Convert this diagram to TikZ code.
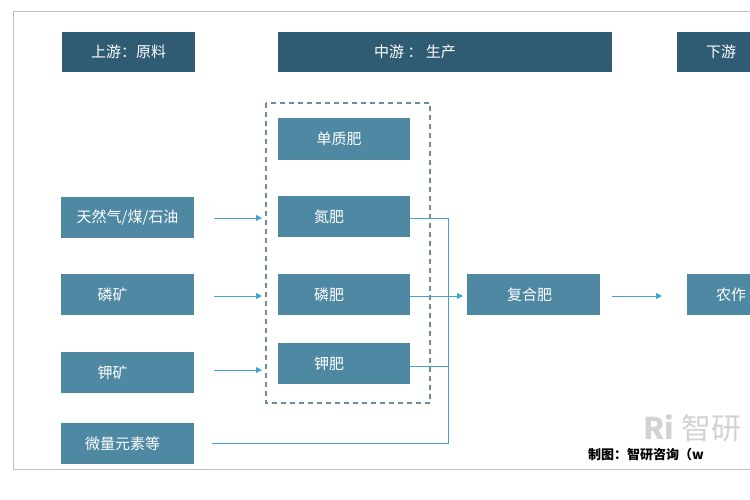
\documentclass[tikz,border=0pt]{standalone}
\usepackage{fontspec}
\setmainfont{Noto Sans CJK SC}
\usetikzlibrary{arrows.meta}
\definecolor{hdr}{HTML}{2F5B73}
\definecolor{bx}{HTML}{4E88A2}
\definecolor{ln}{HTML}{3FA7CF}
\begin{document}
\begin{tikzpicture}[x=1pt,y=-1pt,
 hbox/.style={fill=hdr,text=white,font=\fontsize{15}{15}\selectfont,inner sep=0pt},
 bbox/.style={fill=bx,text=white,font=\fontsize{15}{15}\selectfont,inner sep=0pt},
 ar/.style={draw=ln,line width=1pt,-{Triangle[length=6pt,width=6pt]}},
 li/.style={draw=ln,line width=1pt}]
\useasboundingbox (0,0) rectangle (750,500);
\clip (0,0) rectangle (750,500);
\draw[gray!50,line width=1pt] (13,12) rectangle (780,469);
\node[hbox,minimum width=133pt,minimum height=40pt] (up) at (128.5,52) {上游：原料};
\node[hbox,minimum width=334pt,minimum height=40pt] (mid) at (445,52) {\hspace*{-60pt}中游 ： 生产};
\node[hbox,minimum width=80pt,minimum height=40pt,anchor=west] (down) at (677,52) {\hspace*{8pt}下游\hfill};
\draw[hdr!70,line width=1.2pt,dash pattern=on 5pt off 4pt] (266,103) rectangle (430,403);
\foreach \n/\t/\y in {gas/{天然气/煤/石油}/217.5, p/{\hspace*{-30pt}磷矿}/294.5, k/{\hspace*{-30pt}钾矿}/372.5, tr/{\hspace*{-10pt}微量元素等}/443.5}{
  \node[bbox,minimum width=133pt,minimum height=41pt] (\n) at (127.5,\y) {\t};}
\node[bbox,minimum width=132pt,minimum height=42pt] (dz) at (344,139) {\hspace*{-10pt}单质肥};
\node[bbox,minimum width=132pt,minimum height=41pt] (nf) at (344,216.5) {\hspace*{-30pt}氮肥};
\node[bbox,minimum width=132pt,minimum height=41pt] (pf) at (344,294.5) {\hspace*{-30pt}磷肥};
\node[bbox,minimum width=132pt,minimum height=41pt] (kf) at (344,363.5) {\hspace*{-30pt}钾肥};
\node[bbox,minimum width=133pt,minimum height=41pt] (fh) at (533.5,294.5) {\hspace*{-8pt}复合肥};
\node[bbox,minimum width=70pt,minimum height=41pt,anchor=west] (nz) at (687,294.5) {\hspace*{18pt}农作\hfill};
\coordinate (j1) at (448,218);
\coordinate (j2) at (448,443);
\draw[ar] (214,218) -- (262,218);
\draw[ar] (214,296) -- (262,296);
\draw[ar] (214,370) -- (262,370);
\draw[li] (410,218) -- (j1) -- (j2) -- (212,443);
\draw[li] (410,366) -- (448,366);
\draw[ar] (410,296) -- (463,296);
\draw[ar] (612,296) -- (662,296);
\node[text=gray!35,font=\fontsize{30}{30}\selectfont,anchor=west] (wm) at (640,428) {\textbf{Ri} 智研};
\node[font=\fontsize{13}{13}\selectfont\bfseries,anchor=west,inner sep=0pt] (src) at (588,455) {制图：智研咨询（w};
\end{tikzpicture}
\end{document}
